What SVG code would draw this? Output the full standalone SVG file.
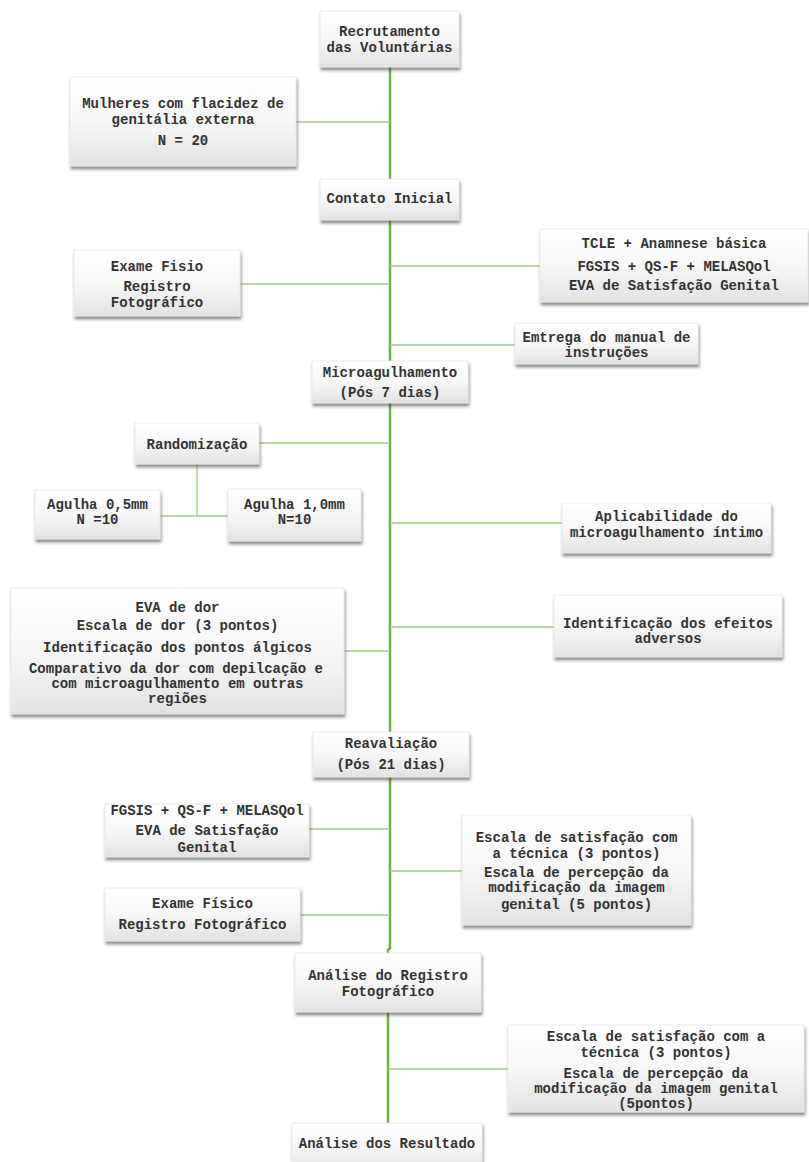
<svg xmlns="http://www.w3.org/2000/svg" width="809" height="1162" viewBox="0 0 809 1162">
<defs>
<linearGradient id="g" x1="0" y1="0" x2="0" y2="1">
<stop offset="0" stop-color="#ffffff"/>
<stop offset="0.5" stop-color="#f7f7f7"/>
<stop offset="1" stop-color="#e2e2e2"/>
</linearGradient>
<filter id="sh" x="-10%" y="-10%" width="130%" height="140%">
<feDropShadow dx="1" dy="3" stdDeviation="1.5" flood-color="#333" flood-opacity="0.55"/>
</filter>
</defs>
<style>
.box{fill:url(#g);stroke:#e6e6e6;stroke-width:0.8;filter:url(#sh)}
.t{font-family:"Liberation Mono","Courier New",monospace;font-size:14px;font-weight:bold;fill:#333333;text-anchor:middle}
.trunk{stroke:#6cb33e;stroke-width:2.5;fill:none}
.br{stroke:#9fd082;stroke-width:1.3;fill:none}
</style>
<rect width="809" height="1162" fill="#ffffff"/>
<g id="connectors">
<path class="trunk" d="M390 67 V179 M390 220 V361 M390 403 V732 M390 777 V948 L388 950 V953 M388 1012 V1123"/>
<path class="br" d="M296 122 H390 M390 266 H540 M240 284 H390 M390 345 H515 M259 443 H390 M197 464 V516 M160 516 H228 M390 523 H562 M344 651 H390 M390 627 H554 M309 829 H390 M390 871 H462 M300 915 H390 M388 1069 H508"/>
</g>
<g id="n1"><rect class="box" x="320" y="11" width="139" height="56"/>
<text class="t" x="389.5" y="36">Recrutamento</text><text class="t" x="389.5" y="52">das Voluntárias</text></g>
<g id="n2"><rect class="box" x="70" y="77" width="226" height="89"/>
<text class="t" x="183" y="108">Mulheres com flacidez de</text><text class="t" x="183" y="124">genitália externa</text><text class="t" x="183" y="145">N = 20</text></g>
<g id="n3"><rect class="box" x="320" y="179" width="139" height="41"/>
<text class="t" x="389.5" y="203">Contato Inicial</text></g>
<g id="n4"><rect class="box" x="540" y="229" width="268" height="73"/>
<text class="t" x="674" y="248">TCLE + Anamnese básica</text><text class="t" x="674" y="271">FGSIS + QS-F + MELASQol</text><text class="t" x="674" y="290">EVA de Satisfação Genital</text></g>
<g id="n5"><rect class="box" x="74" y="250" width="166" height="66"/>
<text class="t" x="157" y="271">Exame Fisio</text><text class="t" x="157" y="291">Registro</text><text class="t" x="157" y="307">Fotográfico</text></g>
<g id="n6"><rect class="box" x="515" y="323" width="183" height="41"/>
<text class="t" x="606.5" y="342">Emtrega do manual de</text><text class="t" x="606.5" y="357">instruções</text></g>
<g id="n7"><rect class="box" x="312" y="361" width="156" height="42"/>
<text class="t" x="390" y="377">Microagulhamento</text><text class="t" x="390" y="397">(Pós 7 dias)</text></g>
<g id="n8"><rect class="box" x="135" y="423" width="124" height="41"/>
<text class="t" x="197" y="449">Randomização</text></g>
<g id="n9"><rect class="box" x="35" y="490" width="125" height="49"/>
<text class="t" x="97.5" y="509">Agulha 0,5mm</text><text class="t" x="97.5" y="524">N =10</text></g>
<g id="n10"><rect class="box" x="228" y="489" width="133" height="52"/>
<text class="t" x="294.5" y="509">Agulha 1,0mm</text><text class="t" x="294.5" y="524">N=10</text></g>
<g id="n11"><rect class="box" x="562" y="503" width="209" height="50"/>
<text class="t" x="666.5" y="521">Aplicabilidade do</text><text class="t" x="666.5" y="537">microagulhamento íntimo</text></g>
<g id="n12"><rect class="box" x="11" y="588" width="333" height="126"/>
<text class="t" x="177.5" y="612">EVA de dor</text><text class="t" x="177.5" y="630">Escala de dor (3 pontos)</text><text class="t" x="177.5" y="652">Identificação dos pontos álgicos</text><text class="t" x="176" y="673">Comparativo da dor com depilcação e</text><text class="t" x="177.5" y="688">com microagulhamento em outras</text><text class="t" x="177.5" y="703">regiões</text></g>
<g id="n13"><rect class="box" x="554" y="595" width="228" height="62"/>
<text class="t" x="668" y="628">Identificação dos efeitos</text><text class="t" x="668" y="643">adversos</text></g>
<g id="n14"><rect class="box" x="313" y="732" width="156" height="45"/>
<text class="t" x="391" y="748">Reavaliação</text><text class="t" x="391" y="769">(Pós 21 dias)</text></g>
<g id="n15"><rect class="box" x="105" y="804" width="204" height="53"/>
<text class="t" x="207" y="815">FGSIS + QS-F + MELASQol</text><text class="t" x="207" y="835">EVA de Satisfação</text><text class="t" x="207" y="852">Genital</text></g>
<g id="n16"><rect class="box" x="462" y="815" width="229" height="110"/>
<text class="t" x="576.5" y="842">Escala de satisfação com</text><text class="t" x="576.5" y="858">a técnica (3 pontos)</text><text class="t" x="576.5" y="877">Escala de percepção da</text><text class="t" x="576.5" y="892">modificação da imagem</text><text class="t" x="576.5" y="909">genital (5 pontos)</text></g>
<g id="n17"><rect class="box" x="105" y="888" width="195" height="53"/>
<text class="t" x="202.5" y="908">Exame Físico</text><text class="t" x="202.5" y="929">Registro Fotográfico</text></g>
<g id="n18"><rect class="box" x="295" y="953" width="186" height="59"/>
<text class="t" x="388" y="980">Análise do Registro</text><text class="t" x="388" y="996">Fotográfico</text></g>
<g id="n19"><rect class="box" x="508" y="1025" width="296" height="87"/>
<text class="t" x="656" y="1041">Escala de satisfação com a</text><text class="t" x="656" y="1057">técnica (3 pontos)</text><text class="t" x="656" y="1078">Escala de percepção da</text><text class="t" x="656" y="1093">modificação da imagem genital</text><text class="t" x="656" y="1108">(5pontos)</text></g>
<g id="n20"><rect class="box" x="292" y="1123" width="190" height="48"/>
<text class="t" x="387" y="1148">Análise dos Resultado</text></g>
</svg>
